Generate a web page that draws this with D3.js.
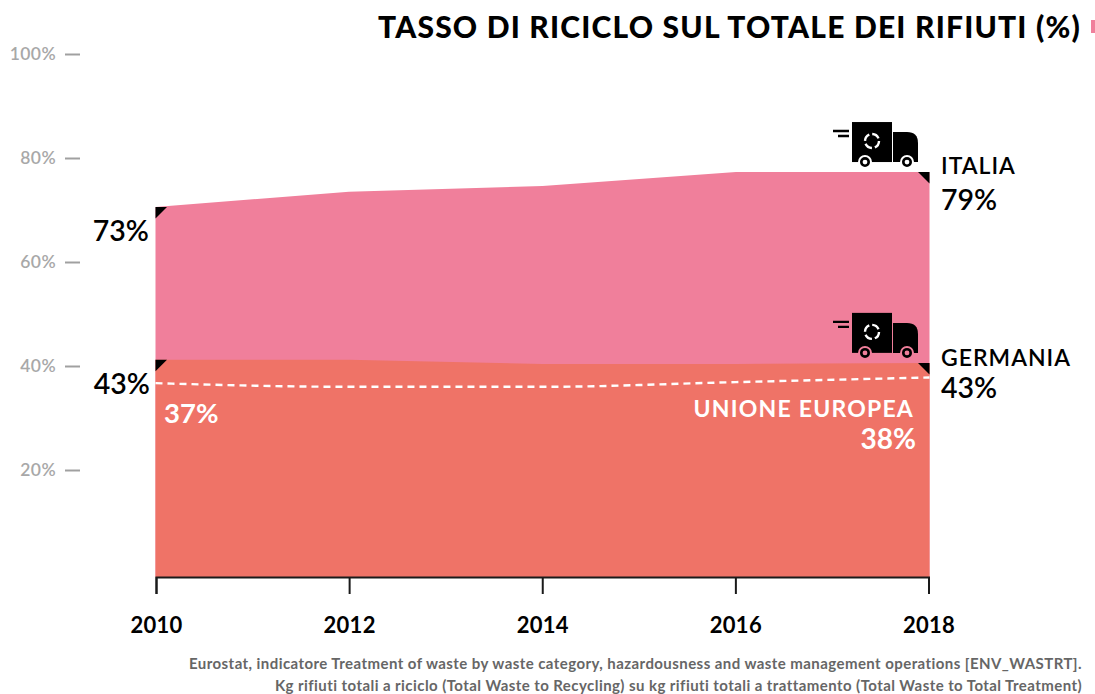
<!DOCTYPE html>
<html lang="it">

<head>
    <meta charset="UTF-8">
    <title>Tasso di riciclo sul totale dei rifiuti</title>
    <style>
    body {
        margin: 0;
        background: #fff;
        overflow: hidden;
        font-family: Lato, Arial, sans-serif;
    }

    .y-axis text {
        fill: #a8a8a8;
        font-size: 17.5px;
        font-weight: 600;
        letter-spacing: 0.4px;
    }

    .y-axis line {
        stroke: #a0a0a0;
        stroke-width: 2px;
    }

    .x-axis text {
        fill: #000;
        font-size: 22px;
        font-weight: 700;
        letter-spacing: 0.3px;
    }

    .x-axis line,
    .x-axis path {
        stroke: #1a1a1a;
        stroke-width: 2px;
    }

    .note {
        fill: #666;
        font-size: 15px;
        font-weight: 700;
        letter-spacing: 0.43px;
        text-anchor: end;
    }

    .wheel {
        fill: #000;
        stroke: currentColor;
        stroke-width: 2px;
    }

    .hub {
        fill: currentColor;
    }
    </style>
</head>

<body>
    <svg width="1095" height="694">
        <defs>
            <!-- camion, origine in basso a sinistra del cassone -->
            <g id="truck">
                <rect x="0" y="-40" width="40" height="40" fill="#000"></rect>
                <path d="M41 -30H55Q66 -30 66 -19V0H41Z" fill="#000"></path>
                <path d="M-19 -31H-3M-14 -26H-3" stroke="#000" stroke-width="2.4"></path>
                <circle cx="20" cy="-21" r="7" fill="none" stroke="#fff" stroke-width="2.4" stroke-dasharray="8 3"></circle>
                <circle cx="13" cy="0" r="6" class="wheel"></circle>
                <circle cx="13" cy="0" r="2.4" class="hub"></circle>
                <circle cx="55" cy="0" r="6" class="wheel"></circle>
                <circle cx="55" cy="0" r="2.4" class="hub"></circle>
            </g>
        </defs>
    </svg>
    <script src="https://d3js.org/d3.v7.min.js"></script>
    <script>
    // Dati
    const years = [2010, 2012, 2014, 2016, 2018];
    const italia = [70.6, 73.5, 74.6, 77.3, 77.3];
    const germania = [41.2, 41.2, 40.4, 40.4, 40.6];
    const unione = [36.7, 36.0, 36.0, 36.9, 37.8];
    const yTicks = [20, 40, 60, 80, 100];
    const xTicks = [2010, 2012, 2014, 2016, 2018];

    const svg = d3.select("svg");

    const x = d3.scaleLinear().domain([2010, 2018]).range([155.5, 929.5]);
    const xAxisScale = x.copy().range([156, 928.5]);
    const y = d3.scaleLinear().domain([0, 100]).range([574, 54]);
    const baseline = 577;

    const area = d3.area()
        .x((d, i) => x(years[i]))
        .y0(baseline)
        .y1(d => y(d));

    const line = d3.line()
        .x((d, i) => x(years[i]))
        .y(d => y(d))
        .curve(d3.curveMonotoneX);

    // Aree
    svg.append("path").datum(italia).attr("d", area).attr("fill", "#f07f9b");
    svg.append("path").datum(germania).attr("d", area).attr("fill", "#ef7367");

    // Linea UE tratteggiata
    svg.append("path").datum(unione).attr("d", line)
        .attr("fill", "none")
        .attr("stroke", "#fff")
        .attr("stroke-width", 2.4)
        .attr("stroke-dasharray", "7 5");

    // Triangolini neri agli angoli delle aree
    const corner = 11.5;
    function triangle(year, value, dir) {
        const px = x(year), py = y(value);
        svg.append("path")
            .attr("d", d3.line()([[px, py], [px + dir * -corner, py], [px, py + corner]]))
            .attr("fill", "#000");
    }
    triangle(2010, italia[0], -1);
    triangle(2010, germania[0], -1);
    triangle(2018, italia[4], 1);
    triangle(2018, germania[4], 1);

    // Camion: le ruote prendono il colore dello sfondo
    [[italia[4], "#fff"], [germania[4], "#f07f9b"]].forEach(([v, bg]) => {
        svg.append("use")
            .attr("href", "#truck")
            .style("color", bg)
            .attr("transform", `translate(${x(2018) - 77.5},${y(v) - 10})`);
    });

    // Asse y
    svg.append("g")
        .attr("class", "y-axis")
        .attr("transform", "translate(80,0)")
        .call(d3.axisLeft(y).tickValues(yTicks).tickSize(15).tickPadding(9).tickFormat(d => d + "%"))
        .call(g => g.select(".domain").remove());

    // Asse x
    svg.append("g")
        .attr("class", "x-axis")
        .attr("transform", `translate(0,${baseline})`)
        .call(d3.axisBottom(xAxisScale).tickValues(xTicks).tickSize(17).tickPadding(23).tickFormat(d3.format("d")));
    svg.select(".x-axis").attr("font-family", null);
    svg.select(".y-axis").attr("font-family", null);

    // Etichette
    const labels = [
        { text: "73%", x: 149, y: 241, size: 28.5, weight: 600, fill: "#000", anchor: "end" },
        { text: "43%", x: 150, y: 394, size: 28.5, weight: 600, fill: "#000", anchor: "end" },
        { text: "37%", x: 164, y: 423, size: 27.5, weight: 700, fill: "#fff", anchor: "start" },
        { text: "ITALIA", x: 941, y: 174, size: 23, weight: 600, fill: "#000", anchor: "start", spacing: 1 },
        { text: "79%", x: 941, y: 210, size: 28.5, weight: 600, fill: "#000", anchor: "start" },
        { text: "GERMANIA", x: 941, y: 366, size: 23, weight: 600, fill: "#000", anchor: "start", spacing: 1 },
        { text: "43%", x: 941, y: 398, size: 28.5, weight: 600, fill: "#000", anchor: "start" },
        { text: "UNIONE EUROPEA", x: 914, y: 417, size: 23, weight: 700, fill: "#fff", anchor: "end", spacing: 1.2 },
        { text: "38%", x: 916, y: 449, size: 28, weight: 700, fill: "#fff", anchor: "end" }
    ];
    svg.selectAll(".label").data(labels).join("text")
        .attr("class", "label")
        .attr("x", d => d.x)
        .attr("y", d => d.y)
        .attr("text-anchor", d => d.anchor)
        .attr("fill", d => d.fill)
        .style("font-size", d => d.size + "px")
        .style("font-weight", d => d.weight)
        .style("letter-spacing", d => (d.spacing || 0) + "px")
        .text(d => d.text);

    // Titolo e trattino rosa
    svg.append("text")
        .attr("x", 1081).attr("y", 38)
        .attr("text-anchor", "end")
        .style("font-size", "30px")
        .style("font-weight", 900)
        .style("letter-spacing", "1.2px")
        .text("TASSO DI RICICLO SUL TOTALE DEI RIFIUTI (%)");
    svg.append("rect")
        .attr("x", 1091).attr("y", 20).attr("width", 4).attr("height", 13)
        .attr("fill", "#f07f9b");

    // Nota
    svg.append("text").attr("class", "note").attr("x", 1082).attr("y", 669)
        .text("Eurostat, indicatore Treatment of waste by waste category, hazardousness and waste management operations [ENV_WASTRT].");
    svg.append("text").attr("class", "note").attr("x", 1082).attr("y", 691)
        .text("Kg rifiuti totali a riciclo (Total Waste to Recycling) su kg rifiuti totali a trattamento (Total Waste to Total Treatment)");
    </script>
</body>

</html>
